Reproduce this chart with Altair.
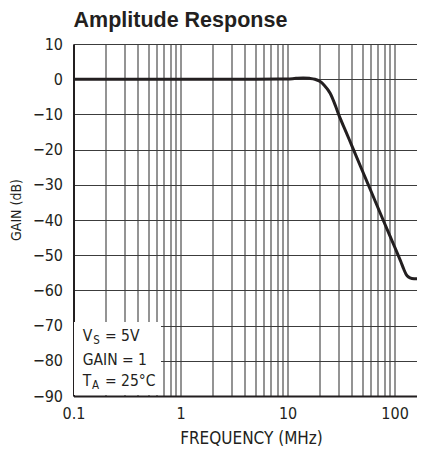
import altair as alt
import pandas as pd

# --- data ---
FREQ_MHZ = [0.1, 1, 5, 10, 12, 14, 16, 18, 20, 22, 25, 28, 30, 35, 40, 50, 60, 80,
            100, 115, 122, 128, 135, 145, 160, 190]
GAIN_DB = [0, 0, 0, 0.05, 0.25, 0.35, 0.25, 0.0, -0.6, -1.7, -4, -7.5, -10, -14.8,
           -19.0, -26.0, -31.7, -40.7, -47.6, -52.0, -54.0, -55.4, -56.2, -56.6,
           -56.7, -56.6]

X_GRID = [0.1, 0.2, 0.3, 0.4, 0.5, 0.6, 0.7, 0.8, 0.9,
          1, 2, 3, 4, 5, 6, 7, 8, 9,
          10, 20, 30, 40, 50, 60, 70, 80, 90, 100]
Y_TICKS = [10, 0, -10, -20, -30, -40, -50, -60, -70, -80, -90]
X_DOMAIN = [0.1, 162]
Y_DOMAIN = [-90, 10]

INK = "#231f20"
FONT = "DejaVu Sans Condensed"
TITLE_FONT = "Liberation Sans"

df = pd.DataFrame({"f": FREQ_MHZ, "g": GAIN_DB})

x_enc = alt.X(
    "f:Q",
    scale=alt.Scale(type="log", domain=X_DOMAIN, nice=False),
    axis=alt.Axis(
        values=X_GRID,
        labelExpr="abs(log(datum.value)/LN10 - round(log(datum.value)/LN10)) < 1e-6 ? format(datum.value, '~g') : ''",
        title="FREQUENCY (MHz)",
        ticks=False,
        labelPadding=9,
        labelFontSize=16,
        titleFontSize=17,
        titleFontWeight="normal",
        titleBaseline="alphabetic",
        titleAlign="center",
        titleX=177.5,
        titleY=47,
        labelFlush=False,
        labelOverlap=False,
    ),
)
y_enc = alt.Y(
    "g:Q",
    scale=alt.Scale(domain=Y_DOMAIN, nice=False),
    axis=alt.Axis(
        values=Y_TICKS,
        format="d",
        title="GAIN (dB)",
        ticks=False,
        labelPadding=11,
        labelFontSize=16,
        titleFontSize=14,
        titleFontWeight="normal",
        titleAngle=270,
        titleAlign="center",
        titleBaseline="middle",
        titleX=-57,
        titleY=165.5,
        titleLimit=300,
        labelOverlap=False,
    ),
)

curve = alt.Chart(df).mark_line(
    color=INK, strokeWidth=3, interpolate="monotone", clip=True
).encode(x=x_enc, y=y_enc)

box = alt.Chart(df).mark_rect(color="white").encode(
    x=alt.value(1), x2=alt.value(87.5), y=alt.value(278), y2=alt.value(351)
)


def label(text, x, y, size):
    return alt.Chart(pd.DataFrame({"t": [text]})).mark_text(
        align="left", baseline="alphabetic", fontSize=size, font=FONT, color=INK
    ).encode(text="t:N", x=alt.value(x), y=alt.value(y))


texts = [
    label("V", 9.2, 296.7, 15.5),
    label("S", 19.8, 300, 11.5),
    label("= 5V", 31.5, 296.7, 15.5),
    label("GAIN = 1", 9.2, 321, 15.5),
    label("T", 9.2, 341.7, 15.5),
    label("A", 18.4, 345, 11.5),
    label("= 25°C", 31.5, 341.7, 15.5),
]

chart = alt.layer(box, curve, *texts).properties(
    width=343.5,
    height=352,
    autosize=alt.AutoSizeParams(type="none"),
    padding={"left": 65.5, "top": 36, "right": 0, "bottom": 50},
    title=alt.TitleParams(
        "Amplitude Response",
        anchor="start",
        frame="group",
        fontSize=21.5,
        fontWeight="bold",
        font=TITLE_FONT,
        color=INK,
        baseline="alphabetic",
        offset=10,
        dy=22,
    ),
).configure_view(stroke=None).configure_axis(
    grid=True,
    gridColor="#3c3c3c",
    gridWidth=1.1,
    domainColor=INK,
    domainWidth=2,
    labelColor=INK,
    titleColor=INK,
    labelFont=FONT,
    titleFont=FONT,
)

chart.save("out.html", embed_options={"renderer": "svg", "actions": False})
